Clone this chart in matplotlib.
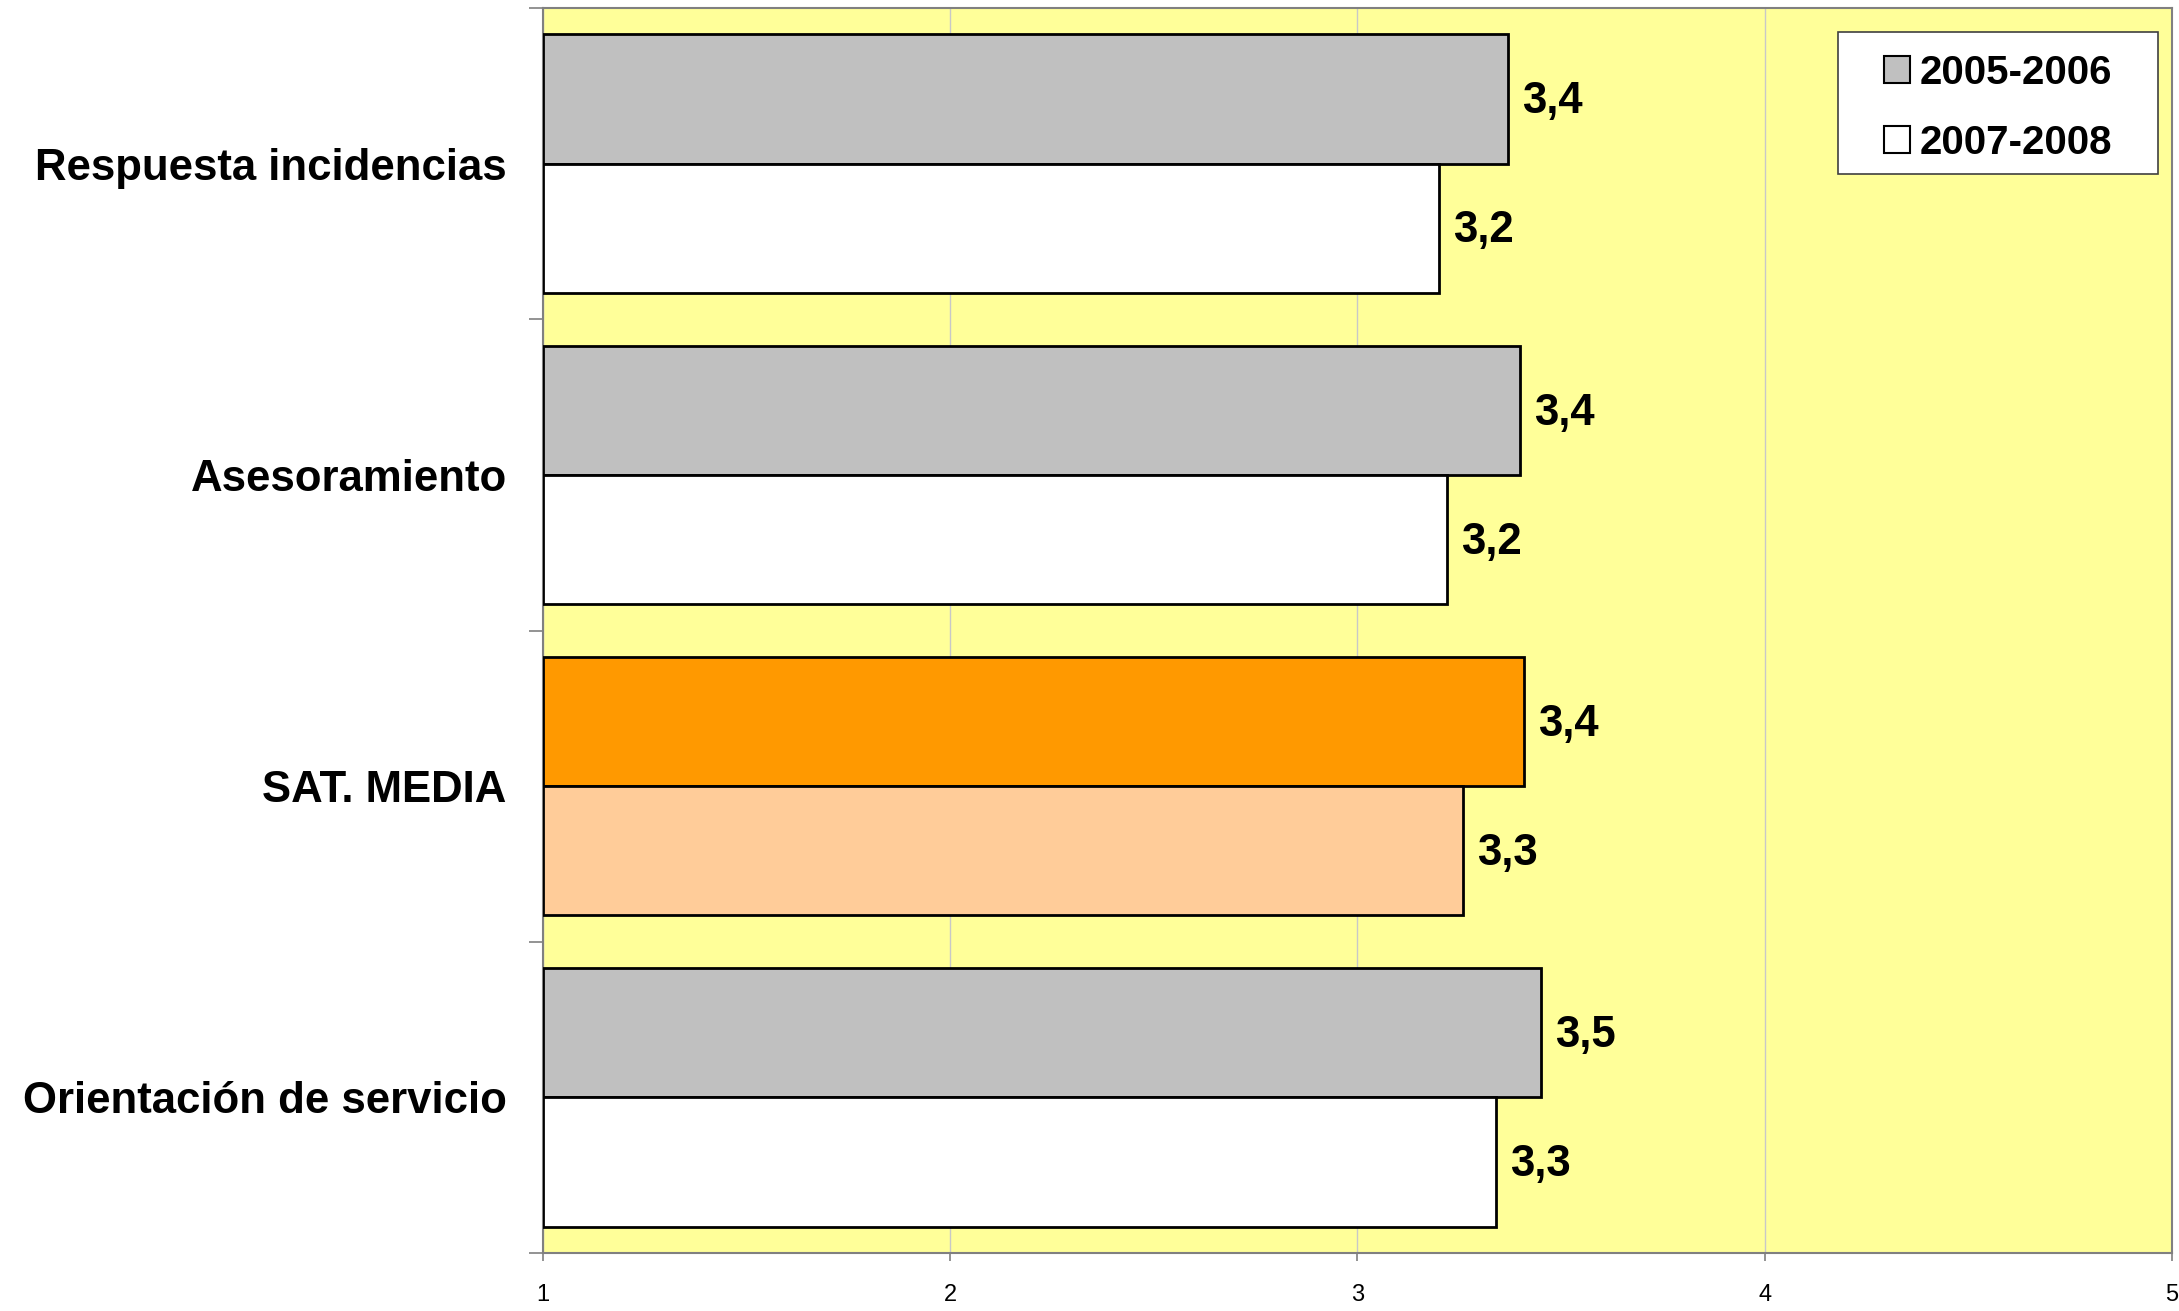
import matplotlib
matplotlib.use("Agg")
import matplotlib.pyplot as plt
from matplotlib.patches import Patch, Rectangle

# Survey satisfaction scores (scale 1-5), two periods
categories = ["Respuesta incidencias", "Asesoramiento", "SAT. MEDIA", "Orientación de servicio"]
periods = ["2005-2006", "2007-2008"]
scores_2005_2006 = [3.37, 3.40, 3.41, 3.45]
scores_2007_2008 = [3.20, 3.22, 3.26, 3.34]
x_ticks = [1, 2, 3, 4, 5]

# Fill colours: the average row is highlighted in orange tones
fill_2005 = ["#C0C0C0", "#C0C0C0", "#FF9900", "#C0C0C0"]
fill_2007 = ["#FFFFFF", "#FFFFFF", "#FFCC99", "#FFFFFF"]

plt.rcParams["font.family"] = ["Liberation Sans", "DejaVu Sans"]

fig = plt.figure(figsize=(21.79, 13.11), dpi=100)
ax = fig.add_axes([0.2491, 0.0442, 0.7477, 0.9497])
ax.set_facecolor("#FFFF99")

n = len(categories)
ypos = [n - 1 - i for i in range(n)]
h = 0.415

left = x_ticks[0]
w05 = [v - left for v in scores_2005_2006]
w07 = [v - left for v in scores_2007_2008]
b1 = ax.barh([y + h / 2 for y in ypos], w05, height=h, left=left,
             color=fill_2005, edgecolor="black", linewidth=2, zorder=3)
b2 = ax.barh([y - h / 2 for y in ypos], w07, height=h, left=left,
             color=fill_2007, edgecolor="black", linewidth=2, zorder=3)

for bars, vals in ((b1, scores_2005_2006), (b2, scores_2007_2008)):
    for bar, v in zip(bars, vals):
        ax.annotate(("%.1f" % v).replace(".", ","),
                    xy=(v, bar.get_y() + bar.get_height() / 2),
                    xytext=(10, -2), textcoords="offset points",
                    ha="left", va="center", fontsize=31.5, fontweight="bold",
                    color="black", zorder=4)

ax.set_xlim(x_ticks[0], x_ticks[-1])
ax.set_ylim(-0.5, n - 0.5)

ax.set_xticks(x_ticks)
ax.set_xticklabels([str(t) for t in x_ticks], fontsize=17)
ax.tick_params(axis="x", direction="out", length=6, width=1.2, color="#808080", pad=16)
ax.grid(axis="x", color="#C8C8C8", linewidth=1, zorder=0)

ax.set_yticks(ypos)
ax.set_yticklabels(categories, fontsize=31.5, fontweight="bold")
ax.tick_params(axis="y", length=0, pad=26)
ax.set_yticks([y - 0.5 for y in range(n + 1)], minor=True)
ax.tick_params(axis="y", which="minor", direction="out", length=10, width=1.2, color="#808080")

for s in ax.spines.values():
    s.set_color("#808080")
    s.set_linewidth(1.5)

# Legend box drawn as its own rectangle so the padding can differ per side
box_x0, box_x1 = 0.795, 0.9914
box_y0, box_y1 = 0.8667, 0.9807
ax.add_patch(Rectangle((box_x0, box_y0), box_x1 - box_x0, box_y1 - box_y0,
                       transform=ax.transAxes, facecolor="white",
                       edgecolor="#404040", linewidth=1.2, zorder=5))

handles = [Patch(facecolor="#C0C0C0", edgecolor="black", linewidth=1.5),
           Patch(facecolor="#FFFFFF", edgecolor="black", linewidth=1.5)]
leg = ax.legend(handles, periods, loc="center",
                bbox_to_anchor=((box_x0 + box_x1) / 2, (box_y0 + box_y1) / 2 - 0.004),
                borderaxespad=0, prop={"weight": "bold", "size": 29},
                handlelength=0.65, handleheight=0.65, handletextpad=0.25,
                labelspacing=0.8, borderpad=0.2, frameon=False)
leg.set_zorder(6)

fig.savefig("out.png", dpi=100, facecolor="white")
